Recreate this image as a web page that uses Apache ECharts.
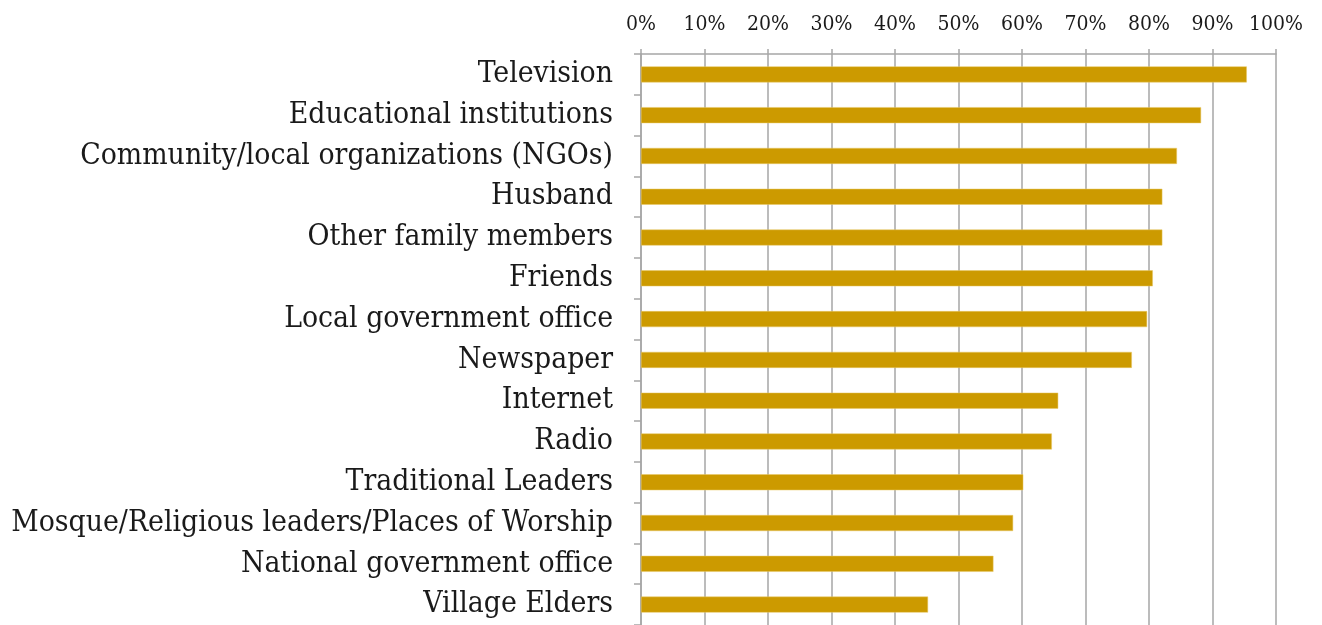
<!DOCTYPE html>
<html>
<head>
<meta charset="utf-8">
<script src="https://cdn.jsdelivr.net/npm/echarts@6/dist/echarts.min.js"></script>
<style>
  html, body { margin: 0; padding: 0; background: #ffffff; }
  #chart { width: 1322px; height: 625px; }
</style>
</head>
<body>
<div id="chart"></div>
<script>
// Sources of information, share of respondents (%)
const categories = [
  'Television',
  'Educational institutions',
  'Community/local organizations (NGOs)',
  'Husband',
  'Other family members',
  'Friends',
  'Local government office',
  'Newspaper',
  'Internet',
  'Radio',
  'Traditional Leaders',
  'Mosque/Religious leaders/Places of Worship',
  'National government office',
  'Village Elders'
];
const shares = [95.4, 88.2, 84.4, 82.1, 82.1, 80.6, 79.7, 77.3, 65.7, 64.7, 60.2, 58.6, 55.5, 45.2];

const chart = echarts.init(document.getElementById('chart'), null, { renderer: 'canvas' });
const serif = '"DejaVu Serif Condensed", "DejaVu Serif", serif';
chart.setOption({
  animation: false,
  backgroundColor: '#ffffff',
  grid: { left: 641, top: 54, width: 635, height: 574, containLabel: false },
  xAxis: {
    type: 'value',
    position: 'top',
    min: 0,
    max: 100,
    interval: 10,
    axisLine: { show: true, lineStyle: { color: '#a6a6a6', width: 1.5 } },
    axisTick: { show: true, length: 5, lineStyle: { color: '#a6a6a6', width: 1.5 } },
    axisLabel: {
      formatter: '{value}%',
      fontFamily: serif,
      fontSize: 21,
      color: '#1a1a1a',
      margin: 19
    },
    splitLine: { show: true, lineStyle: { color: '#a6a6a6', width: 1.5 } }
  },
  yAxis: {
    type: 'category',
    inverse: true,
    data: categories,
    axisLine: { show: true, lineStyle: { color: '#a6a6a6', width: 1.5 } },
    axisTick: { show: true, length: 7, lineStyle: { color: '#a6a6a6', width: 1.5 } },
    axisLabel: {
      fontFamily: serif,
      fontSize: 29.8,
      color: '#1a1a1a',
      margin: 28
    }
  },
  series: [{
    type: 'bar',
    data: shares,
    barWidth: 16,
    itemStyle: { color: '#cc9a00', borderColor: '#e8c866', borderWidth: 0.5 }
  }]
});
</script>
</body>
</html>
